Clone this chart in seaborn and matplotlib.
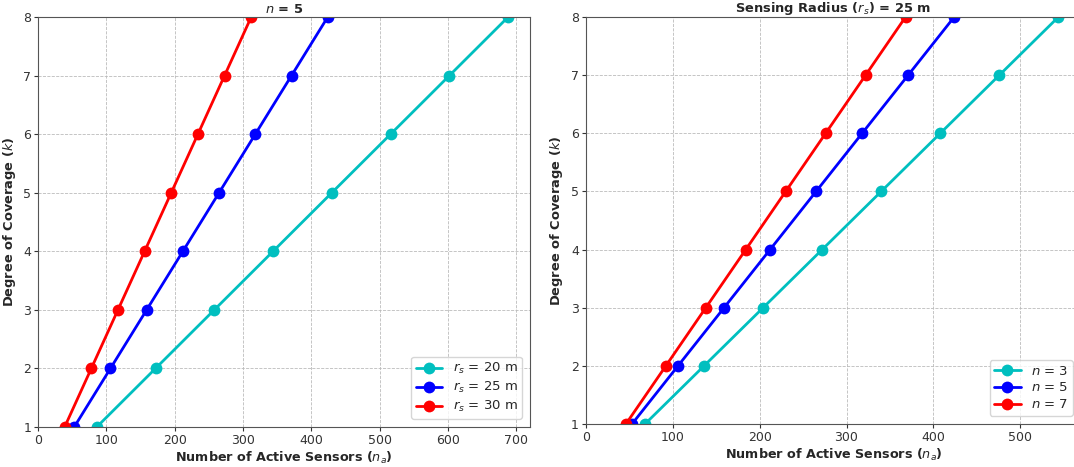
import matplotlib
matplotlib.use("Agg")
import matplotlib.pyplot as plt
import seaborn as sns
import pandas as pd

k_values = [1, 2, 3, 4, 5, 6, 7, 8]

# Left panel: n = 5, varying sensing radius
rs20 = [86, 172, 258, 344, 430, 516, 602, 688]
rs25 = [53, 106, 159, 212, 265, 318, 371, 424]
rs30 = [39, 78, 117, 156, 195, 234, 273, 312]
left_labels = ["$r_s$ = 20 m", "$r_s$ = 25 m", "$r_s$ = 30 m"]

# Right panel: r_s = 25 m, varying n
n3 = [68, 136, 204, 272, 340, 408, 476, 544]
n5 = [53, 106, 159, 212, 265, 318, 371, 424]
n7 = [46, 92, 138, 184, 230, 276, 322, 368]
right_labels = ["$n$ = 3", "$n$ = 5", "$n$ = 7"]

colors = ["#00bfbf", "#0000ff", "#ff0000"]

sns.set_style("ticks")
plt.rcParams["font.family"] = ["DejaVu Sans"]

fig = plt.figure(figsize=(10.74, 4.67), dpi=100)
ax1 = fig.add_axes([0.0354, 0.0857, 0.4581, 0.8779])
ax2 = fig.add_axes([0.5456, 0.0921, 0.4609, 0.8715])


def make_df(series, labels):
    rows = []
    for vals, lab in zip(series, labels):
        for kk, v in zip(k_values, vals):
            rows.append({"na": v, "k": kk, "label": lab})
    return pd.DataFrame(rows)


def draw(ax, df, labels, title):
    sns.lineplot(data=df, x="na", y="k", hue="label", hue_order=labels,
                 palette=colors, marker="o", markersize=8.5, linewidth=2,
                 markeredgewidth=0, ax=ax, sort=False, estimator=None)
    ax.set_ylim(1, 8)
    ax.grid(True, linestyle="--", color="#bbbbbb", linewidth=0.6)
    ax.set_xlabel("Number of Active Sensors ($n_a$)", fontsize=9.2,
                  fontweight="bold", labelpad=2)
    ax.set_ylabel("Degree of Coverage ($k$)", fontsize=9.4,
                  fontweight="bold", labelpad=4)
    ax.set_title(title, fontsize=9.4, fontweight="bold", pad=3)
    ax.tick_params(labelsize=9, colors="#333333", length=3, pad=2)
    for s in ax.spines.values():
        s.set_color("#555555")
    ax.legend(loc="lower right", fontsize=9.5, handlelength=2.0,
              borderaxespad=0.6, labelspacing=0.3, borderpad=0.35)


draw(ax1, make_df([rs20, rs25, rs30], left_labels), left_labels, "$n$ = 5")
draw(ax2, make_df([n3, n5, n7], right_labels), right_labels,
     "Sensing Radius ($r_s$) = 25 m")
ax1.set_xlim(0, 720)
ax2.set_xlim(0, 570)

fig.savefig("out.png", dpi=100)
